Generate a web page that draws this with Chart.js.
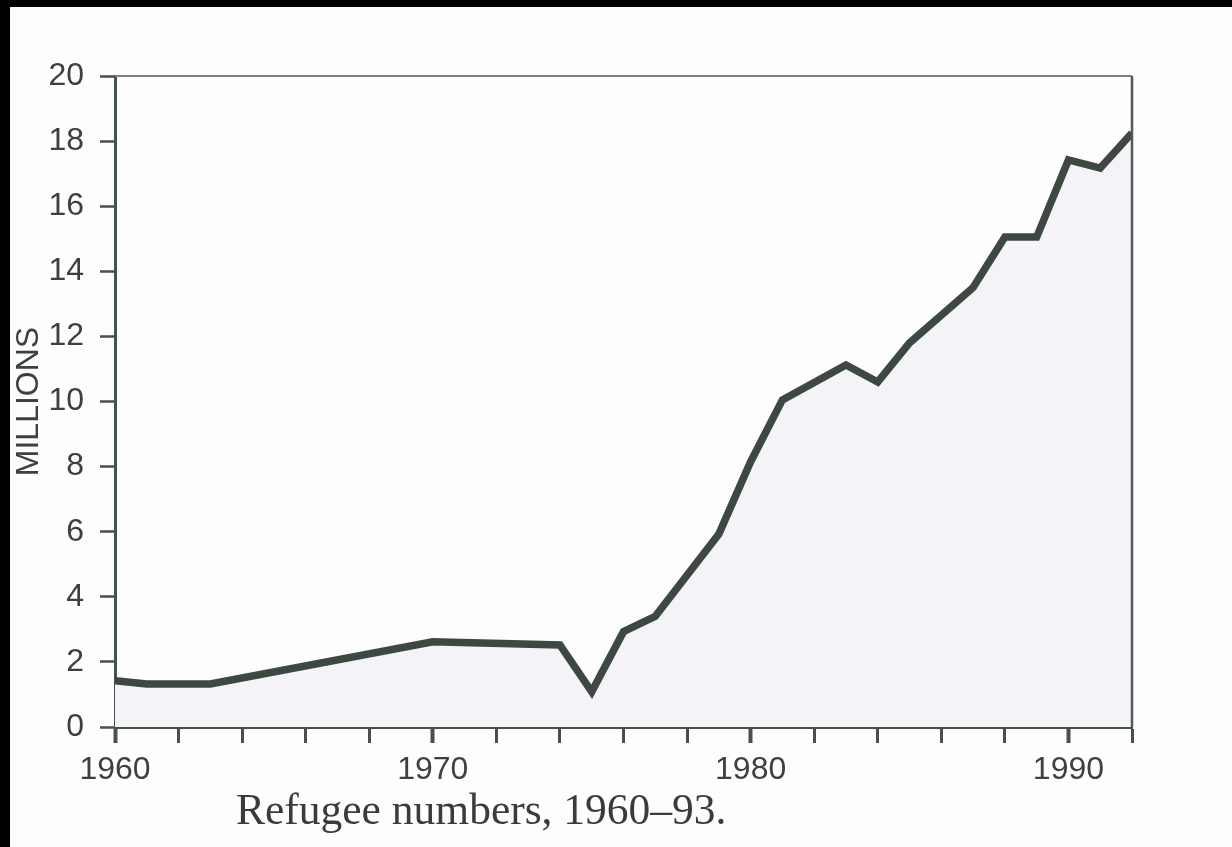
<!DOCTYPE html>
<html>
<head>
<meta charset="utf-8">
<script src="https://cdn.jsdelivr.net/npm/chart.js@4"></script>
<style>
  html, body { margin: 0; padding: 0; background: #000; }
  #page { position: absolute; left: 10px; top: 7px; width: 1222px; height: 840px; background: #fdfdfd; }
  #chart { position: absolute; left: 0; top: 0; }
  #caption {
    position: absolute; left: 226px; top: 781px;
    font-family: "Liberation Serif", "Times New Roman", serif;
    font-size: 43.5px; line-height: 1; color: #3a3c3b; white-space: nowrap;
  }
</style>
</head>
<body>
<div id="page">
  <canvas id="chart" width="1222" height="840"></canvas>
  <div id="caption">Refugee numbers, 1960–93.</div>
</div>
<script>
// Refugee numbers, millions
const years = [1960, 1961, 1963, 1970, 1974, 1975, 1976, 1977, 1979, 1980, 1981, 1983, 1984, 1985, 1987, 1988, 1989, 1990, 1991, 1992];
const refugees = [1.42, 1.32, 1.32, 2.62, 2.52, 1.08, 2.93, 3.4, 5.93, 8.15, 10.05, 11.12, 10.6, 11.8, 13.5, 15.05, 15.05, 17.42, 17.17, 18.25];
const yearLabels = [1960, 1970, 1980, 1990];

const ink = '#3e4843';
const axisInk = '#46514c';

const framePlugin = {
  id: 'frame',
  afterDraw(chart) {
    const { ctx, chartArea: a } = chart;
    ctx.save();
    ctx.strokeStyle = '#7b8380';
    ctx.lineWidth = 2;
    ctx.beginPath();
    ctx.moveTo(a.left, a.top);
    ctx.lineTo(a.right, a.top);
    ctx.stroke();
    ctx.strokeStyle = '#505a56';
    ctx.lineWidth = 2.5;
    ctx.beginPath();
    ctx.moveTo(a.right, a.top);
    ctx.lineTo(a.right, a.bottom);
    ctx.stroke();
    ctx.restore();
  }
};

new Chart(document.getElementById('chart'), {
  type: 'line',
  data: {
    datasets: [{
      data: years.map((y, i) => ({ x: y, y: refugees[i] })),
      borderColor: ink,
      borderWidth: 7.5,
      borderJoinStyle: 'miter',
      backgroundColor: '#f4f3f7',
      fill: 'origin',
      pointRadius: 0,
      tension: 0
    }]
  },
  options: {
    responsive: false,
    animation: false,
    devicePixelRatio: 1,
    layout: { padding: { left: 0, top: 69, right: 100, bottom: 60 } },
    plugins: { legend: { display: false }, tooltip: { enabled: false } },
    scales: {
      x: {
        type: 'linear',
        min: 1960,
        max: 1992,
        afterFit: s => { s.height = 60; },
        ticks: {
          stepSize: 2,
          autoSkip: false,
          maxRotation: 0,
          padding: 8,
          color: '#3b413f',
          font: { family: '"Liberation Sans", Arial, sans-serif', size: 32 },
          callback: v => yearLabels.includes(v) ? String(v) : ''
        },
        grid: {
          drawOnChartArea: false,
          tickLength: 16,
          tickColor: axisInk,
          tickWidth: c => yearLabels.includes(c.tick && c.tick.value) ? 4 : 3
        },
        border: { color: axisInk, width: 3 }
      },
      y: {
        min: 0,
        max: 20,
        afterFit: s => { s.width = 105; },
        ticks: {
          stepSize: 2,
          padding: 16,
          color: '#3b413f',
          font: { family: '"Liberation Sans", Arial, sans-serif', size: 32 }
        },
        grid: {
          drawOnChartArea: false,
          tickLength: 15,
          tickColor: axisInk,
          tickWidth: 2.5
        },
        border: { color: axisInk, width: 3 },
        title: {
          display: true,
          text: 'MILLIONS',
          color: '#3b413f',
          padding: { top: 0, bottom: 0 },
          font: { family: '"Liberation Sans", Arial, sans-serif', size: 32 }
        }
      }
    }
  },
  plugins: [framePlugin]
});
</script>
</body>
</html>
